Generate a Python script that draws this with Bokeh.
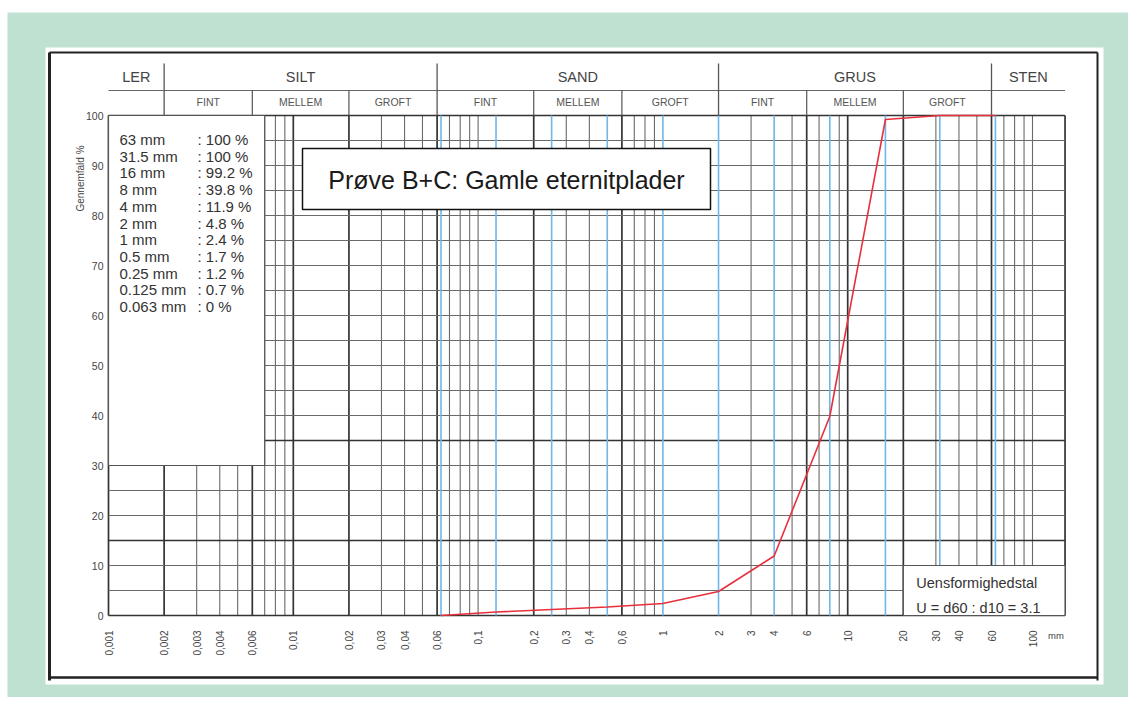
import math
from bokeh.plotting import figure
from bokeh.models import Range1d, ColumnDataSource
from bokeh.core.properties import value
from bokeh.embed import file_html
from bokeh.resources import INLINE

# ---------------- data ----------------
sieve_mm = [63, 31.5, 16, 8, 4, 2, 1, 0.5, 0.25, 0.125, 0.063]
passing_pct = [100, 100, 99.2, 39.8, 11.9, 4.8, 2.4, 1.7, 1.2, 0.7, 0]

x_tick_values = [0.001, 0.002, 0.003, 0.004, 0.006, 0.01, 0.02, 0.03, 0.04, 0.06,
                 0.1, 0.2, 0.3, 0.4, 0.6, 1, 2, 3, 4, 6, 10, 20, 30, 40, 60, 100]
x_tick_labels = ["0,001", "0,002", "0,003", "0,004", "0,006", "0,01", "0,02", "0,03",
                 "0,04", "0,06", "0,1", "0,2", "0,3", "0,4", "0,6", "1", "2", "3", "4",
                 "6", "10", "20", "30", "40", "60", "100"]
y_tick_values = [0, 10, 20, 30, 40, 50, 60, 70, 80, 90, 100]
y_tick_labels = [str(v) for v in y_tick_values]

main_classes = ["LER", "SILT", "SAND", "GRUS", "STEN"]
main_bounds = [0.001, 0.002, 0.06, 2, 60, 150]
sub_classes = ["FINT", "MELLEM", "GROFT", "FINT", "MELLEM", "GROFT", "FINT", "MELLEM", "GROFT"]
sub_bounds = [0.002, 0.006, 0.02, 0.06, 0.2, 0.6, 2, 6, 20, 60]

grid_x_black = [0.001, 0.002, 0.003, 0.004, 0.005, 0.006, 0.007, 0.008, 0.009,
                0.01, 0.02, 0.03, 0.04, 0.05, 0.06, 0.07, 0.08, 0.09,
                0.1, 0.2, 0.3, 0.4, 0.6, 0.7, 0.8, 0.9,
                3, 5, 6, 7, 9,
                10, 20, 30, 40, 50, 60, 70, 80, 90, 100, 150]
grid_x_heavy = [0.001, 0.002, 0.006, 0.01, 0.02, 0.06, 0.2, 0.6, 6, 10, 20, 60, 150]
grid_y = list(range(0, 101, 5))
grid_y_heavy = [0, 15, 35, 100]

title_text = "Prøve B+C: Gamle eternitplader"
u_text = ["Uensformighedstal", "U = d60 : d10 = 3.1"]
y_axis_title = "Gennemfald %"
x_unit = "mm"

# ---------------- layout helpers ----------------
MINT = "#bfe1d1"
GRID = "#555555"
BLUE = "#6fb6ea"
TXT = "#333333"
FONT = value("Liberation Sans")

W, H = 1128, 697
PX_PER_DEC = 184.8          # pixels per decade on the log axis
X0_PX, Y0_PX = 108, 615     # page position of 0.001 mm / 0 %
PX_PER_PCT = 5.0


def xd(px):
    return 10 ** (-3 + (px - X0_PX) / PX_PER_DEC)


def yd(py):
    return (Y0_PX - py) / PX_PER_PCT


p = figure(width=W, height=H, x_axis_type="log",
           x_range=Range1d(xd(0), xd(W)), y_range=Range1d(yd(H), yd(0)),
           output_backend="svg", toolbar_location=None,
           x_axis_location=None, y_axis_location=None,
           min_border_left=0, min_border_right=0, min_border_top=0, min_border_bottom=0)
p.border_fill_color = "white"
p.background_fill_color = "white"
p.outline_line_color = None
p.grid.visible = False

# mint background and white scanned page
p.quad(left=[xd(7)], right=[xd(W + 20)], bottom=[yd(H + 20)], top=[yd(12)],
       fill_color=MINT, line_color=None)
p.quad(left=[xd(45)], right=[xd(1103)], bottom=[yd(684)], top=[yd(47)],
       fill_color="white", line_color=None)

# scanned page frame
fx0, fx1 = xd(49), xd(1097)
p.multi_line(xs=[[fx0, fx1], [fx0, fx0], [fx1, fx1], [fx0, fx1]],
             ys=[[yd(52), yd(52)], [yd(680), yd(52)], [yd(680), yd(52)], [yd(677), yd(677)]],
             line_color="#222222", line_width=[2, 3, 2, 2.5])

# vertical black grid lines
xb = ColumnDataSource(dict(
    x=grid_x_black,
    w=[1.7 if v in grid_x_heavy else 1.1 for v in grid_x_black],
    c=["#333333" if v in grid_x_heavy else "#6a6a6a" for v in grid_x_black]))
p.segment(x0="x", y0=0, x1="x", y1=100, source=xb, line_color="c", line_width="w")

# horizontal grid lines
hy = ColumnDataSource(dict(
    y=grid_y,
    w=[1.7 if v in grid_y_heavy else 1.1 for v in grid_y],
    c=["#333333" if v in grid_y_heavy else "#6a6a6a" for v in grid_y]))
p.segment(x0=0.001, y0="y", x1=150, y1="y", source=hy, line_color="c", line_width="w")

# blue sieve lines
p.segment(x0=sieve_mm, y0=0, x1=sieve_mm, y1=100, line_color=BLUE, line_width=1.6)

# white boxes (legend box top-left and uniformity box bottom-right)
p.quad(left=[0.001, 20], right=[0.007, 150], bottom=[30, 0], top=[100, 10],
       fill_color="white", line_color=GRID, line_width=1.2)

# header
p.segment(x0=0.001, y0=105, x1=150, y1=105, line_color="#666666", line_width=1.1)
p.segment(x0=main_bounds[1:-1], y0=110.4, x1=main_bounds[1:-1], y1=100,
          line_color="#555555", line_width=1.3)
sub_only = [b for b in sub_bounds if b not in main_bounds]
p.segment(x0=sub_only, y0=105, x1=sub_only, y1=100, line_color="#555555", line_width=1.2)
main_cx = [math.sqrt(a * b) for a, b in zip(main_bounds[:-1], main_bounds[1:])]
p.text(x=main_cx, y=[107.8] * len(main_cx), text=main_classes, text_align="center",
       text_baseline="middle", text_font=FONT, text_font_size="14.5px", text_color="#444444")
sub_cx = [math.sqrt(a * b) for a, b in zip(sub_bounds[:-1], sub_bounds[1:])]
p.text(x=sub_cx, y=[102.8] * len(sub_cx), text=sub_classes, text_align="center",
       text_baseline="middle", text_font=FONT, text_font_size="10.5px", text_color="#555555")

# grading curve
order = sorted(range(len(sieve_mm)), key=lambda i: sieve_mm[i])
p.line(x=[sieve_mm[i] for i in order], y=[passing_pct[i] for i in order],
       line_color="#e8303c", line_width=1.6)

# legend listing inside the top-left box
n = len(sieve_mm)
leg_y = [yd(139 + i * 16.7) for i in range(n)]
p.text(x=[0.001] * n, y=leg_y, text=[f"{s:g} mm" for s in sieve_mm], x_offset=11,
       text_align="left", text_baseline="middle", text_font=FONT,
       text_font_size="15px", text_color=TXT)
p.text(x=[0.001] * n, y=leg_y, text=[f": {v:g} %" for v in passing_pct], x_offset=89,
       text_align="left", text_baseline="middle", text_font=FONT,
       text_font_size="15px", text_color=TXT)

# title box
tb_l, tb_r = xd(302), xd(710)
p.quad(left=[tb_l], right=[tb_r], bottom=[yd(209)], top=[yd(148)],
       fill_color="white", line_color="#111111", line_width=1.5)
p.text(x=[math.sqrt(tb_l * tb_r)], y=[yd(179.5)], text=[title_text], text_align="center",
       text_baseline="middle", text_font=FONT, text_font_size="25px", text_color="#1a1a1a")

# uniformity text
p.text(x=[20, 20], y=[6.6, 1.6], text=u_text, x_offset=13, text_align="left",
       text_baseline="middle", text_font=FONT, text_font_size="14.5px", text_color=TXT)

# y tick labels and title
p.text(x=[0.001] * len(y_tick_values), y=y_tick_values, text=y_tick_labels, x_offset=-5,
       text_align="right", text_baseline="middle", text_font=FONT,
       text_font_size="10.5px", text_color="#444444")
p.text(x=[0.001], y=[87.4], text=[y_axis_title], x_offset=-28, angle=math.pi / 2,
       text_align="center", text_baseline="middle", text_font=FONT,
       text_font_size="10px", text_color="#444444")

# x tick labels (rotated) and unit
p.text(x=x_tick_values, y=[-3] * len(x_tick_values), text=x_tick_labels,
       angle=math.pi / 2, text_align="right", text_baseline="middle", text_font=FONT,
       text_font_size="10px", text_color="#444444")
p.text(x=[150], y=[-4], text=[x_unit], x_offset=-17, text_align="left",
       text_baseline="middle", text_font=FONT, text_font_size="9.5px", text_color="#444444")

open("out.html", "w").write(file_html(p, INLINE))
